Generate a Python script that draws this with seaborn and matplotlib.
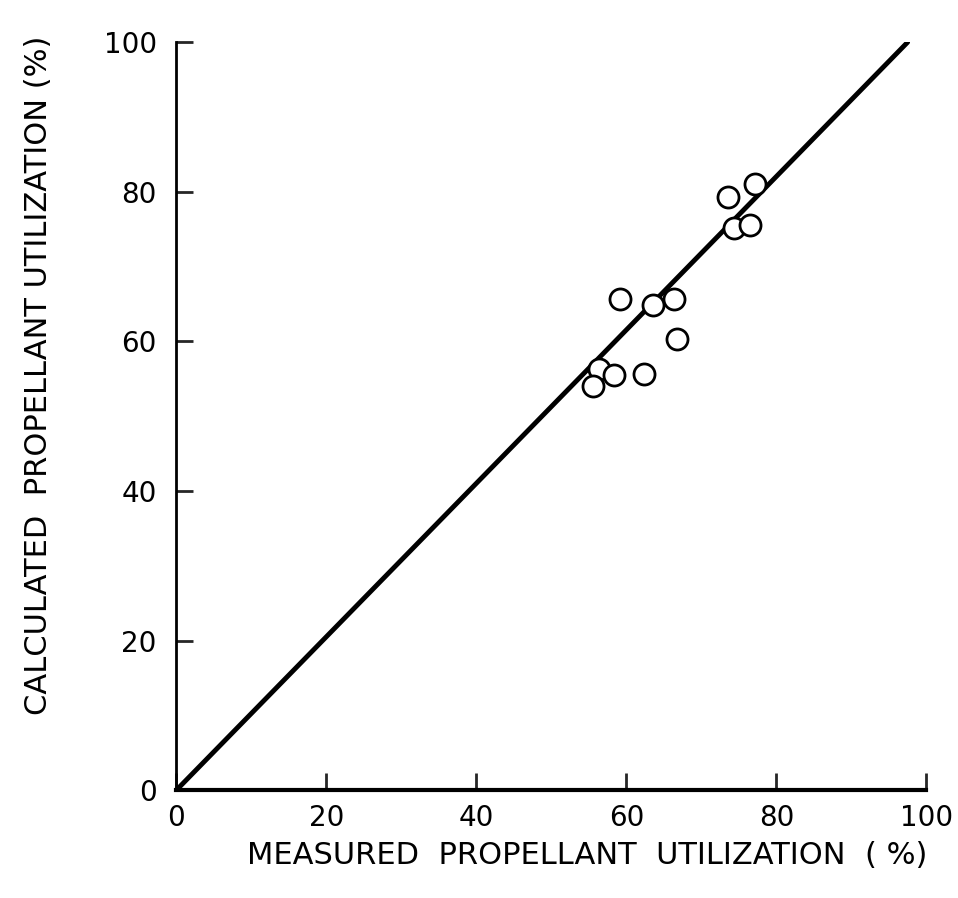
import matplotlib
matplotlib.use("Agg")
import matplotlib.pyplot as plt
import seaborn as sns
import pandas as pd

# === Measured vs calculated propellant utilization (%) ===
measured = [73.5, 77.2, 74.3, 76.5, 59.1, 63.6, 66.4, 66.8, 56.3, 58.3, 55.6, 62.3]
calculated = [79.3, 81.1, 75.2, 75.6, 65.7, 64.9, 65.7, 60.3, 56.3, 55.5, 54.0, 55.7]

# correlation line as drawn on the original
line_x = [0, 97.5]
line_y = [0, 100]

ticks = [0, 20, 40, 60, 80, 100]

df = pd.DataFrame({"measured": measured, "calculated": calculated})
line_df = pd.DataFrame({"x": line_x, "y": line_y})

sns.set_style("white")
plt.rcParams["font.family"] = ["DejaVu Sans"]

fig = plt.figure(figsize=(9.58, 8.98), dpi=100)
ax = fig.add_axes([0.184, 0.120, 0.783, 0.833])

sns.lineplot(data=line_df, x="x", y="y", color="black", linewidth=3.5, ax=ax)
sns.scatterplot(data=df, x="measured", y="calculated", s=230, marker="o",
                facecolor="white", edgecolor="black", linewidth=2, ax=ax, zorder=3)

ax.set_xlim(0, 100)
ax.set_ylim(0, 100)
ax.set_xticks(ticks)
ax.set_yticks(ticks)
ax.set_xticklabels([str(t) for t in ticks], fontsize=20, color="black")
ax.set_yticklabels([str(t) for t in ticks], fontsize=20, color="black")
ax.tick_params(axis="x", direction="in", length=12, width=2, pad=10, bottom=True)
ax.tick_params(axis="y", direction="in", length=12, width=2, pad=14, left=True)

for side in ["top", "right"]:
    ax.spines[side].set_visible(False)
ax.spines["left"].set_linewidth(2)
ax.spines["bottom"].set_linewidth(3)
ax.spines["left"].set_color("black")
ax.spines["bottom"].set_color("black")

ax.set_xlabel("MEASURED  PROPELLANT  UTILIZATION  ( %)", fontsize=22, color="black")
ax.set_ylabel("CALCULATED  PROPELLANT UTILIZATION (%)", fontsize=22, color="black")
ax.xaxis.set_label_coords(0.548, -0.068)
ax.yaxis.set_label_coords(-0.164, 0.555)

fig.savefig("out.png", dpi=100, facecolor="white")
plt.close(fig)
